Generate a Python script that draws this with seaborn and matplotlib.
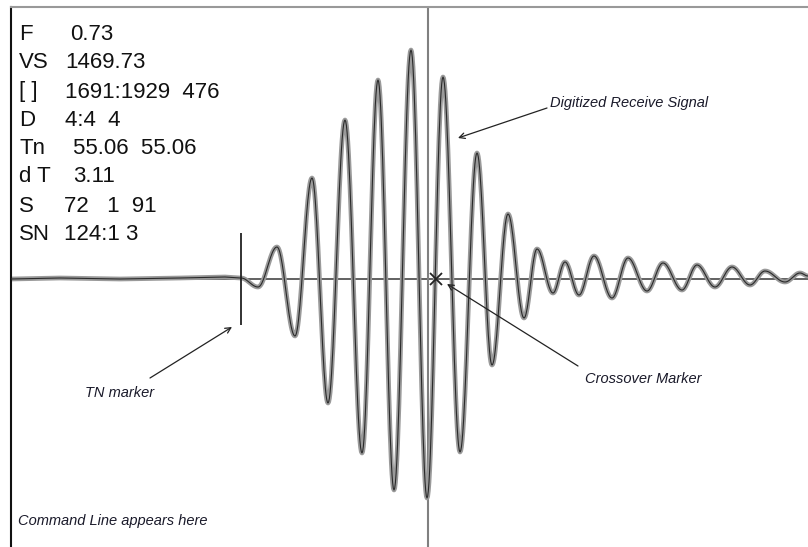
import numpy as np
import pandas as pd
import matplotlib
matplotlib.use('Agg')
import matplotlib.pyplot as plt
import seaborn as sns

sns.set_style('white')
plt.rcParams['font.family'] = ['Liberation Sans', 'DejaVu Sans']

W, H = 808, 547

# status readout (label, value)
status_labels = ['F', 'VS', '[ ]', 'D', 'Tn', 'd T', 'S', 'SN']
status_values = ['0.73', '1469.73', '1691:1929  476', '4:4  4', '55.06  55.06', '3.11', '72   1  91', '124:1 3']

# waveform extrema (sample position, amplitude)
flat_t = [11, 60, 120, 180, 225, 241]
flat_a = [0, 1, 0, 1, 2, 1]
ext_t = [258, 277, 295, 312, 328, 345, 362, 378, 394, 411, 427, 443, 460, 477, 492, 508,
         524, 537, 553, 565, 579, 594, 612, 628, 647, 663, 682, 697, 715, 732, 750, 765,
         785, 800, 808]
ext_a = [-8, 32, -57, 101, -124, 159, -174, 199, -211, 229, -219, 202, -173, 126, -86, 65,
         -39, 30, -14, 17, -16, 23, -19, 21, -12, 16, -11, 14, -8, 12, -6, 8,
         -3, 6, 3]

tn_pos = 241          # TN marker
tn_half = 46
cross_pos = 436       # crossover marker
cursor_pos = 428      # vertical cursor

# trace: flat part as read, then half-cycle lobes between successive extrema
tt = list(flat_t)
aa = list(flat_a)
pts_t = [flat_t[-1]] + ext_t
pts_a = [flat_a[-1]] + ext_a
s = np.linspace(0, 1, 25)[1:]
for i in range(len(pts_t) - 1):
    t0, t1 = pts_t[i], pts_t[i + 1]
    a0, a1 = pts_a[i], pts_a[i + 1]
    w = (1 - np.cos(np.pi * s)) / 2
    tt.extend(t0 + (t1 - t0) * s)
    aa.extend(a0 + (a1 - a0) * w)
trace = pd.DataFrame({'t': tt, 'amp': aa})

fig = plt.figure(figsize=(W / 100, H / 100), dpi=100)
ax = fig.add_axes([11 / W, 0, 1 - 11 / W, 1 - 7 / H])
ax.set_xlim(11, 808)
ax.set_ylim(-268, 272)

# baseline and cursor
ax.axhline(0, color='#555555', lw=1.3, zorder=1)
ax.axvline(cursor_pos, color='#808080', lw=1.5, zorder=1)

sns.lineplot(data=trace, x='t', y='amp', sort=False, estimator=None, ax=ax,
             color='#9a9a9a', lw=3.4, zorder=2, legend=False)
sns.lineplot(data=trace, x='t', y='amp', sort=False, estimator=None, ax=ax,
             color='#2a2a2a', lw=0.8, zorder=3, legend=False)

ax.vlines(tn_pos, -tn_half, tn_half, color='#222222', lw=1.3, zorder=4)
ax.plot([cross_pos], [0], marker='x', ms=9, mew=1.3, color='#222222', zorder=5)

ax.set_xticks([])
ax.set_yticks([])
ax.set_xlabel('')
ax.set_ylabel('')
for side in ['right', 'bottom']:
    ax.spines[side].set_visible(False)
ax.spines['left'].set_color('#111111')
ax.spines['left'].set_linewidth(1.5)
ax.spines['top'].set_color('#999999')
ax.spines['top'].set_linewidth(1.5)


def fp(x, y):
    # figure pixel position from top-left
    return (x / W, 1 - y / H)


status_y = [35, 63, 92, 120, 148, 177, 206, 235]
value_x = [70, 65, 65, 65, 73, 73, 64, 64]
for lab, val, y, vx in zip(status_labels, status_values, status_y, value_x):
    fig.text(*fp(19, y), lab, fontsize=16, va='center', ha='left', color='#111111')
    fig.text(*fp(vx, y), val, fontsize=16, va='center', ha='left', color='#111111')

note_style = dict(fontsize=10.5, style='italic', color='#1a1a2a', va='center', ha='left')
arrow = dict(arrowstyle='->', color='#222222', lw=0.9, shrinkA=0, shrinkB=0)

ax.annotate('', xy=fp(458, 138), xytext=fp(547, 108), xycoords='figure fraction',
            textcoords='figure fraction', arrowprops=arrow)
fig.text(*fp(550, 103), 'Digitized Receive Signal', **note_style)

ax.annotate('', xy=fp(447, 284), xytext=fp(578, 366), xycoords='figure fraction',
            textcoords='figure fraction', arrowprops=arrow)
fig.text(*fp(585, 379), 'Crossover Marker', **note_style)

ax.annotate('', xy=fp(232, 327), xytext=fp(150, 378), xycoords='figure fraction',
            textcoords='figure fraction', arrowprops=arrow)
fig.text(*fp(85, 393), 'TN marker', **note_style)

fig.text(*fp(18, 521), 'Command Line appears here', **note_style)

fig.savefig('out.png', dpi=100)
